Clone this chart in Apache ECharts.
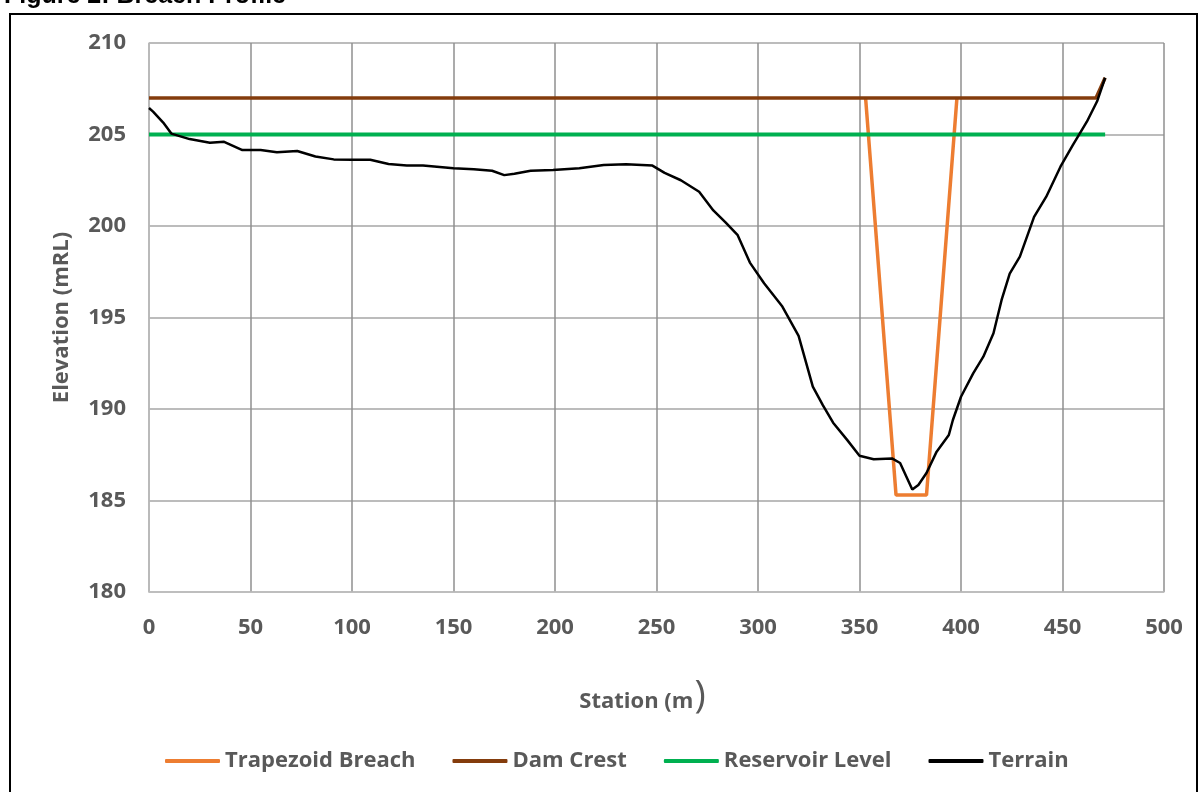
<!DOCTYPE html>
<html>
<head>
<meta charset="utf-8">
<script src="https://cdn.jsdelivr.net/npm/echarts@6/dist/echarts.min.js"></script>
<style>
  html, body { margin: 0; padding: 0; background: #ffffff; }
  #chart { width: 1198px; height: 792px; }
</style>
</head>
<body>
<div id="chart"></div>
<script>
// Terrain long-section along the dam axis
const terrainStation = [0, 2, 7, 11, 20, 30, 37, 46, 55, 63, 73, 82, 91, 100, 109, 118, 127, 135, 150, 160, 169, 175, 180, 188, 199, 212, 224, 235, 248, 254, 262, 271, 278, 284, 290, 296, 303, 312, 320, 327, 332, 337, 344, 350, 357, 366, 370, 376, 379, 383, 388, 394, 396, 400, 406, 411, 416, 420, 424, 429, 436, 442, 449, 455, 462, 467, 471];
const terrainElev = [206.45, 206.25, 205.65, 205.05, 204.75, 204.55, 204.6, 204.15, 204.15, 204.03, 204.1, 203.8, 203.64, 203.62, 203.62, 203.39, 203.3, 203.3, 203.15, 203.1, 203.02, 202.78, 202.85, 203.02, 203.06, 203.15, 203.33, 203.38, 203.3, 202.9, 202.5, 201.87, 200.85, 200.2, 199.5, 198.0, 196.87, 195.6, 194.0, 191.22, 190.2, 189.25, 188.3, 187.45, 187.25, 187.3, 187.05, 185.6, 185.85, 186.5, 187.67, 188.58, 189.4, 190.67, 191.95, 192.86, 194.14, 195.96, 197.4, 198.33, 200.5, 201.6, 203.24, 204.4, 205.7, 206.8, 208.1];

// Trapezoidal breach outline
const breachStation = [353, 368, 383, 398];
const breachElev = [207, 185.3, 185.3, 207];

// Dam crest
const crestStation = [0, 466.5, 471];
const crestElev = [207, 207, 208.1];

// Reservoir water level
const reservoirStation = [0, 471];
const reservoirElev = [205, 205];

// Axis ticks
const xTicks = { min: 0, max: 500, interval: 50 };
const yTicks = { min: 180, max: 210, interval: 5 };

const seriesNames = ['Trapezoid Breach', 'Dam Crest', 'Reservoir Level', 'Terrain'];
const seriesColors = ['#ED7D31', '#843C0C', '#00B050', '#000000'];

function pairs(xs, ys) { return xs.map((x, i) => [x, ys[i]]); }

const FONT = 'Open Sans';
const labelGrey = '#595959';

const chart = echarts.init(document.getElementById('chart'), null, { renderer: 'canvas' });

chart.setOption({
  animation: false,
  backgroundColor: '#ffffff',
  title: {
    text: 'Figure 2: Breach Profile',
    left: -1,
    top: -21,
    textStyle: { fontFamily: 'Liberation Sans', fontWeight: 'bold', fontSize: 25, color: '#000000' }
  },
  graphic: [{
    type: 'rect',
    shape: { x: 10, y: 14, width: 1187, height: 800 },
    style: { fill: 'none', stroke: '#000000', lineWidth: 2 },
    silent: true,
    z: -1
  }],
  grid: { left: 149, right: 34, top: 43, bottom: 200, containLabel: false },
  legend: {
    data: seriesNames,
    left: 160,
    top: 745,
    itemWidth: 55,
    itemHeight: 4,
    itemGap: 37,
    icon: 'roundRect',
    textStyle: { fontFamily: FONT, fontWeight: 'bold', fontSize: 22, color: labelGrey }
  },
  xAxis: {
    type: 'value',
    min: xTicks.min, max: xTicks.max, interval: xTicks.interval,
    name: 'Station (m{p|)}',
    nameLocation: 'middle',
    nameGap: 86,
    nameTextStyle: {
      fontFamily: FONT, fontWeight: 'bold', fontSize: 22, color: labelGrey,
      padding: [0, 28, 0, 0],
      rich: { p: { fontFamily: FONT, fontWeight: 'normal', fontSize: 38, color: labelGrey, padding: [0, 0, 10, 1] } }
    },
    axisLine: { show: true, lineStyle: { color: '#bfbfbf', width: 1.5 } },
    axisTick: { show: false },
    axisLabel: { fontFamily: FONT, fontWeight: 'bold', fontSize: 22, color: labelGrey, margin: 25 },
    splitLine: { show: true, lineStyle: { color: '#8f8f8f', width: 1.5 } }
  },
  yAxis: {
    type: 'value',
    min: yTicks.min, max: yTicks.max, interval: yTicks.interval,
    name: 'Elevation (mRL)',
    nameLocation: 'middle',
    nameRotate: 90,
    nameGap: 76,
    nameTextStyle: { fontFamily: FONT, fontWeight: 'bold', fontSize: 22, color: labelGrey },
    axisLine: { show: true, lineStyle: { color: '#bfbfbf', width: 1.5 } },
    axisTick: { show: false },
    axisLabel: { fontFamily: FONT, fontWeight: 'bold', fontSize: 22, color: labelGrey, margin: 23 },
    splitLine: { show: true, lineStyle: { color: '#a6a6a6', width: 1.5 } }
  },
  series: [
    {
      name: seriesNames[0], type: 'line', data: pairs(breachStation, breachElev),
      showSymbol: false, symbol: 'none', color: seriesColors[0],
      lineStyle: { width: 3.5, color: seriesColors[0] }, z: 2
    },
    {
      name: seriesNames[1], type: 'line', data: pairs(crestStation, crestElev),
      showSymbol: false, symbol: 'none', color: seriesColors[1],
      lineStyle: { width: 3.5, color: seriesColors[1] }, z: 3
    },
    {
      name: seriesNames[2], type: 'line', data: pairs(reservoirStation, reservoirElev),
      showSymbol: false, symbol: 'none', color: seriesColors[2],
      lineStyle: { width: 4, color: seriesColors[2] }, z: 4
    },
    {
      name: seriesNames[3], type: 'line', data: pairs(terrainStation, terrainElev),
      showSymbol: false, symbol: 'none', color: seriesColors[3],
      lineStyle: { width: 2.5, color: seriesColors[3] }, z: 5
    }
  ]
});
</script>
</body>
</html>
